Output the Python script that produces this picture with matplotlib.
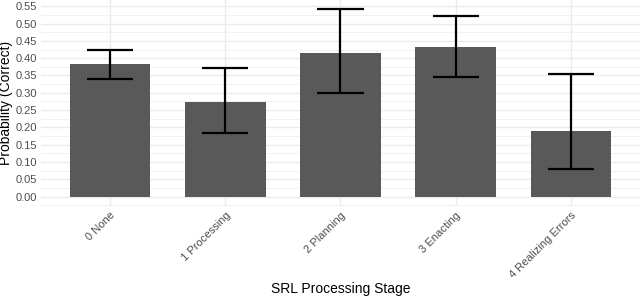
import numpy as np
import matplotlib.pyplot as plt
from matplotlib.ticker import MultipleLocator

# values
stages = ["0 None", "1 Processing", "2 Planning", "3 Enacting", "4 Realizing Errors"]
prob = [0.382, 0.272, 0.416, 0.431, 0.189]
lower = [0.341, 0.185, 0.299, 0.347, 0.080]
upper = [0.425, 0.372, 0.541, 0.521, 0.353]

plt.rcParams["font.family"] = ["Liberation Sans", "DejaVu Sans"]

fig = plt.figure(figsize=(6.4, 2.99), dpi=100)
ax = fig.add_axes([0.064, 0.311, 0.936, 0.689])

x = np.arange(1, len(stages) + 1)
ax.bar(x, prob, width=0.7, color="#595959", zorder=2)

# error bars, ggplot style: caps in data units
cap = 0.4
ax.vlines(x, lower, upper, color="black", linewidth=1.6, zorder=3)
ax.hlines(lower, x - cap / 2, x + cap / 2, color="black", linewidth=1.6, zorder=3)
ax.hlines(upper, x - cap / 2, x + cap / 2, color="black", linewidth=1.6, zorder=3)

ymax = max(upper)
ax.set_ylim(-0.05 * ymax, 1.05 * ymax)
ax.set_xlim(0.4, len(stages) + 0.6)

ax.yaxis.set_major_locator(MultipleLocator(0.05))
ax.yaxis.set_minor_locator(MultipleLocator(0.025))
ax.yaxis.set_major_formatter(plt.FormatStrFormatter("%.2f"))
ax.set_xticks(x)
ax.set_xticklabels(stages, rotation=45, ha="right", va="top", rotation_mode="anchor")

ax.grid(True, which="major", color="#EBEBEB", linewidth=1.0, zorder=0)
ax.grid(True, which="minor", axis="y", color="#EBEBEB", linewidth=0.5, zorder=0)
ax.set_axisbelow(True)

for s in ax.spines.values():
    s.set_visible(False)
ax.tick_params(which="both", length=0, labelsize=8, labelcolor="#4D4D4D", pad=3)

ax.set_xlabel("SRL Processing Stage", fontsize=10)
ax.set_ylabel("Probability (Correct)", fontsize=10)
ax.xaxis.set_label_coords(0.5, -0.37)
ax.yaxis.set_label_coords(-0.047, 0.5)

fig.savefig("out.png", dpi=100)
